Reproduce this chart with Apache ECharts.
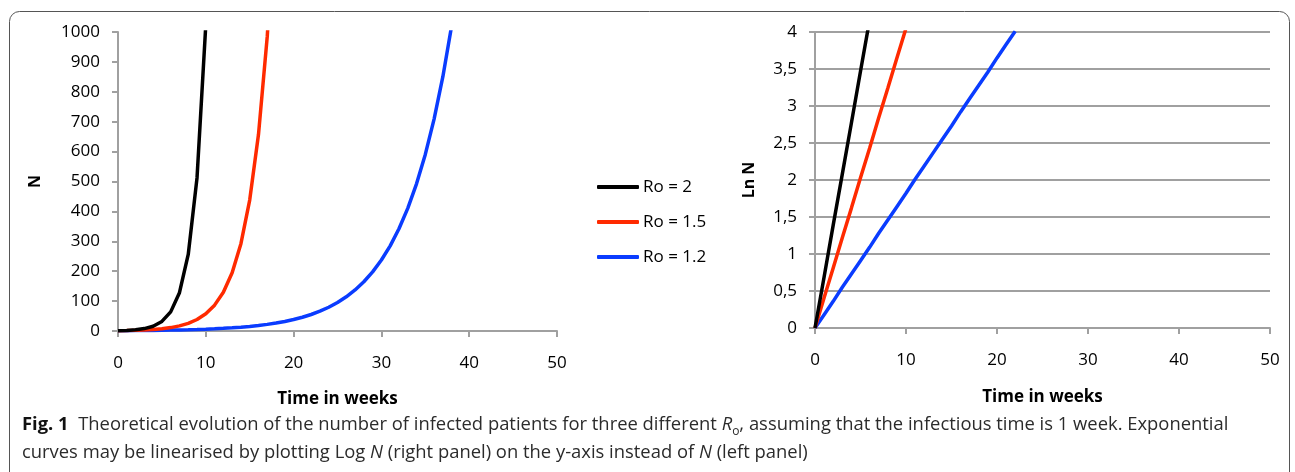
<!DOCTYPE html>
<html>
<head>
<meta charset="utf-8">
<script src="https://cdn.jsdelivr.net/npm/echarts@6/dist/echarts.min.js"></script>
<style>
html,body{margin:0;padding:0;background:#fff;}
#c{width:1295px;height:472px;}
</style>
</head>
<body>
<div id="c"></div>
<script>
// ---- data ----
const seriesNames = ['Ro = 2', 'Ro = 1.5', 'Ro = 1.2'];
// N per week (left panel)
const nRo2 = [1, 2, 4, 8, 16, 32, 64, 128, 256, 512, 1024];
const nRo15 = [1, 1.5, 2.25, 3.38, 5.06, 7.59, 11.39, 17.09, 25.63, 38.44, 57.67, 86.5, 129.75, 194.62, 291.93, 437.89, 656.84, 985.26, 1477.89];
const nRo12 = [1, 1.2, 1.44, 1.73, 2.07, 2.49, 2.99, 3.58, 4.3, 5.16, 6.19, 7.43, 8.92, 10.7, 12.84, 15.41, 18.49, 22.19, 26.62, 31.95, 38.34, 46.01, 55.21, 66.25, 79.5, 95.4, 114.48, 137.37, 164.84, 197.81, 237.38, 284.85, 341.82, 410.19, 492.22, 590.67, 708.8, 850.56, 1020.67];
// Ln N per week (right panel)
const lnRo2 = [0, 0.69, 1.39, 2.08, 2.77, 3.47, 4.16];
const lnRo15 = [0, 0.41, 0.81, 1.22, 1.62, 2.03, 2.43, 2.84, 3.24, 3.65, 4.05];
const lnRo12 = [0, 0.18, 0.36, 0.55, 0.73, 0.91, 1.09, 1.28, 1.46, 1.64, 1.82, 2.01, 2.19, 2.37, 2.55, 2.73, 2.92, 3.10, 3.28, 3.46, 3.65, 3.83, 4.01];
const xTicks = [0, 10, 20, 30, 40, 50];
const leftYTicks = [0, 100, 200, 300, 400, 500, 600, 700, 800, 900, 1000];
const rightYTicks = ['0', '0,5', '1', '1,5', '2', '2,5', '3', '3,5', '4'];

const colors = ['#000000', '#ff2a00', '#0a3cff'];
const toPairs = arr => arr.map((v, i) => [i, v]);
const FONT = 'Open Sans';
const axisGrey = '#a0a0a0';
const LBL = 17;

function xAxis(gridIndex, gap) {
  return {
    type: 'value', gridIndex, min: 0, max: 50, interval: 10,
    name: 'Time in weeks', nameLocation: 'middle', nameGap: gap,
    nameTextStyle: { fontFamily: FONT, fontWeight: 'bold', fontSize: 17, color: '#000' },
    axisLine: { show: true, lineStyle: { color: axisGrey, width: 2 } },
    axisTick: { show: true, length: 6, lineStyle: { color: axisGrey, width: 2 } },
    axisLabel: { fontFamily: FONT, fontSize: LBL, color: '#000', margin: 24,
      formatter: v => String(xTicks[Math.round(v / 10)]) },
    splitLine: { show: false }
  };
}

const option = {
  animation: false,
  backgroundColor: '#fff',
  color: colors,
  grid: [
    { left: 118, top: 32, width: 439, height: 299 },
    { left: 815, top: 32, width: 455, height: 296 }
  ],
  legend: {
    data: seriesNames,
    orient: 'vertical',
    left: 597, top: 177, padding: 0,
    itemWidth: 42, itemHeight: 4, itemGap: 15,
    icon: 'roundRect',
    textStyle: { fontFamily: FONT, fontSize: 17, lineHeight: 20, color: '#000', padding: [0, 0, 0, -1] }
  },
  xAxis: [xAxis(0, 60), xAxis(1, 61)],
  yAxis: [
    {
      type: 'value', gridIndex: 0, min: 0, max: 1000, interval: 100,
      name: 'N', nameLocation: 'middle', nameGap: 75, nameRotate: 90,
      nameTextStyle: { fontFamily: FONT, fontWeight: 'bold', fontSize: 16, color: '#000' },
      axisLine: { show: true, lineStyle: { color: axisGrey, width: 2 } },
      axisTick: { show: true, length: 6, lineStyle: { color: axisGrey, width: 2 } },
      axisLabel: { fontFamily: FONT, fontSize: LBL, color: '#000', margin: 18,
        formatter: v => String(leftYTicks[Math.round(v / 100)]) },
      splitLine: { show: false }
    },
    {
      type: 'value', gridIndex: 1, min: 0, max: 4, interval: 0.5,
      name: 'Ln N', nameLocation: 'middle', nameGap: 58, nameRotate: 90,
      nameTextStyle: { fontFamily: FONT, fontWeight: 'bold', fontSize: 16, color: '#000' },
      axisLine: { show: true, lineStyle: { color: axisGrey, width: 2 } },
      axisTick: { show: true, length: 6, lineStyle: { color: axisGrey, width: 2 } },
      axisLabel: { fontFamily: FONT, fontSize: LBL, color: '#000', margin: 18,
        formatter: v => rightYTicks[Math.round(v * 2)] },
      splitLine: { show: true, lineStyle: { color: axisGrey, width: 2 } }
    }
  ],
  series: [
    [nRo2, 0, 0], [nRo15, 1, 0], [nRo12, 2, 0],
    [lnRo2, 0, 1], [lnRo15, 1, 1], [lnRo12, 2, 1]
  ].map(([arr, k, g]) => ({
    type: 'line', name: seriesNames[k], xAxisIndex: g, yAxisIndex: g,
    data: toPairs(arr), showSymbol: false, symbol: 'none', clip: true,
    lineStyle: { color: colors[k], width: 3.5 }, itemStyle: { color: colors[k] },
    z: 3 - k
  })),
  graphic: [
    {
      type: 'rect', silent: true,
      shape: { x: 9.5, y: 11.5, width: 1280, height: 520, r: [10, 10, 0, 0] },
      style: { fill: 'none', stroke: '#555', lineWidth: 1 }
    },
    {
      type: 'text', left: 22, top: 416,
      style: {
        text: '{b|Fig. 1}  Theoretical evolution of the number of infected patients for three different {i|R}{s|o}, assuming that the infectious time is 1 week. Exponential',
        font: '18.4px "Open Sans"', fill: '#2b2b2b',
        rich: {
          b: { fontWeight: 'bold', fontSize: 18.4, fontFamily: FONT, fill: '#111' },
          i: { fontStyle: 'italic', fontSize: 18.4, fontFamily: FONT },
          s: { fontSize: 12, fontFamily: FONT, verticalAlign: 'bottom', padding: [14, 0, 0, 0] }
        }
      }
    },
    {
      type: 'text', left: 22, top: 444,
      style: {
        text: 'curves may be linearised by plotting Log {i|N} (right panel) on the y-axis instead of {i|N} (left panel)',
        font: '18.4px "Open Sans"', fill: '#2b2b2b',
        rich: { i: { fontStyle: 'italic', fontSize: 18.4, fontFamily: FONT } }
      }
    }
  ]
};
echarts.init(document.getElementById('c'), null, { renderer: 'canvas' }).setOption(option);
</script>
</body>
</html>
